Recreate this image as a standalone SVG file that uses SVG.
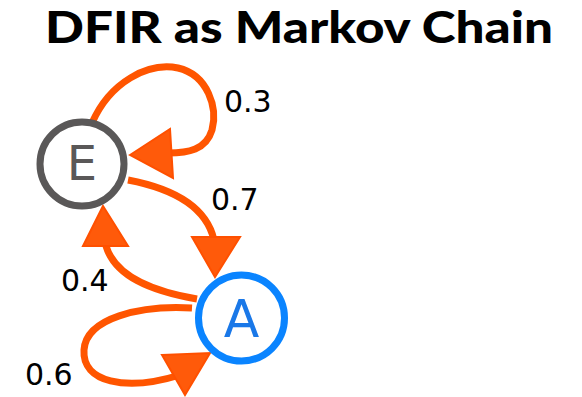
<svg xmlns="http://www.w3.org/2000/svg" width="582" height="397" viewBox="0 0 582 397">
  <style>
    .title { font-family: Lato, "Liberation Sans", sans-serif; font-weight: 900; font-size: 43px; fill: #000; }
    .edge { fill: none; stroke: #ff5500; stroke-width: 7; }
    .head { fill: #ff5a0a; stroke: #ff5000; stroke-width: 2; stroke-linejoin: miter; }
    .prob { font-family: "DejaVu Sans", sans-serif; font-size: 30px; fill: #000; }
    .state { font-family: "DejaVu Sans", sans-serif; text-anchor: middle; }
  </style>
  <rect width="582" height="397" fill="#fff"/>
  <text class="title" x="299" y="43" text-anchor="middle" textLength="508" lengthAdjust="spacingAndGlyphs">DFIR as Markov Chain</text>

  <g id="connectors">
    <!-- E -> E (0.3) -->
    <path class="edge" d="M92,123 C110,82 148,62 178,68 C208,75 218,108 212,130 C206,150 188,153 168,153"/>
    <polygon class="head" points="130,155 170,129 173,178"/>
    <!-- E -> A (0.7) -->
    <path class="edge" d="M128,180 C170,188 206,205 214,240"/>
    <polygon class="head" points="192,237 240,237 215,277"/>
    <!-- A -> E (0.4) -->
    <path class="edge" d="M197,299 C150,291 115,276 106,246"/>
    <polygon class="head" points="103,206 83,246 128,246"/>
    <!-- A -> A (0.6) -->
    <path class="edge" d="M192,308 C140,305 86,318 84,350 C82,382 125,392 180,375"/>
    <polygon class="head" points="162,355 210,353 185,395"/>
  </g>

  <g id="labels">
    <text class="prob" x="224" y="112">0.3</text>
    <text class="prob" x="211" y="210">0.7</text>
    <text class="prob" x="61" y="291">0.4</text>
    <text class="prob" x="25" y="385">0.6</text>
  </g>

  <g id="node-E">
    <circle cx="82" cy="164" r="42" fill="#fff" stroke="#5a5858" stroke-width="7"/>
    <text class="state" x="82" y="180" font-size="48" fill="#5a5858">E</text>
  </g>

  <g id="node-A">
    <circle cx="241.5" cy="318" r="43" fill="#fff" stroke="#0a84ff" stroke-width="7"/>
    <text class="state" x="241.5" y="337" font-size="52" fill="#1a78e8">A</text>
  </g>
</svg>
